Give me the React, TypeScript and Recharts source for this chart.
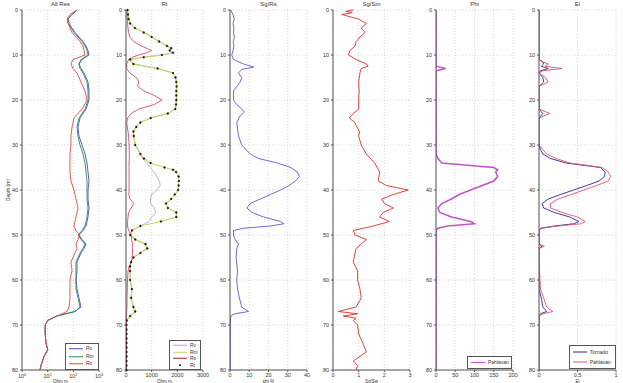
import { LineChart, Line, XAxis, YAxis, CartesianGrid } from "recharts";

const DEPTH_TICKS = [0, 10, 20, 30, 40, 50, 60, 70, 80];
const FONT = "'Liberation Sans', Arial, sans-serif";

// panel 1: all resistivities (log scale)
const resDepth = [0, 1, 2, 3, 4, 5, 6, 7, 8, 9, 10, 11, 12, 13, 14, 16, 18, 20, 22, 24, 26, 28, 30, 32, 34, 36, 38, 40, 42, 44, 46, 48, 49, 50, 51, 52, 53, 54, 56, 58, 60, 62, 64, 66, 67, 68, 69, 70, 72, 74, 75.5, 77, 79, 80];
const resRv = [139, 89, 62, 68, 89, 116, 166, 238, 312, 373, 408, 218, 166, 199, 261, 373, 408, 408, 312, 182, 152, 166, 218, 285, 341, 373, 408, 373, 373, 408, 373, 312, 238, 166, 218, 312, 261, 199, 139, 139, 127, 139, 166, 199, 116, 23, 10, 8, 8, 8.6, 10, 7.2, 5.5, 5];
const resRm = [139, 89, 62, 68, 81, 106, 152, 218, 285, 341, 373, 199, 166, 182, 238, 341, 373, 373, 285, 166, 139, 152, 182, 238, 285, 312, 341, 341, 341, 373, 341, 285, 218, 152, 199, 285, 238, 182, 127, 127, 127, 127, 152, 182, 116, 23, 10, 8, 8, 8.6, 10, 7.2, 5.5, 5];
const resRs = [139, 74, 57, 62, 74, 89, 127, 182, 238, 261, 285, 97, 81, 97, 139, 199, 285, 341, 218, 106, 89, 81, 81, 74, 74, 74, 81, 106, 127, 152, 127, 106, 127, 182, 152, 127, 139, 116, 81, 89, 74, 74, 74, 68, 57, 23, 10, 8, 8, 8.6, 10, 7.2, 5.5, 5];

// panel 2: Rt
const rtDepth = [0, 1, 2, 3, 4, 5, 6, 7, 8, 8.5, 9, 9.5, 10, 10.5, 11, 12, 13, 14, 15, 16, 17, 18, 19, 20, 21, 22, 23, 24, 25, 26, 27, 28, 30, 32, 33, 34, 35, 35.5, 36, 37, 38, 39, 40, 41, 42, 43, 44, 45, 46, 47, 48, 49, 50, 51, 52, 53, 54, 55, 56, 57, 58, 60, 62, 64, 66, 67, 68, 69, 70, 71, 72, 73, 74, 75, 76, 77, 78, 79, 80];
const rtRv = [60, 80, 100, 160, 350, 690, 1000, 1290, 1600, 1760, 1700, 1830, 1400, 690, 160, 290, 1230, 1830, 1930, 1960, 1970, 1960, 1960, 1960, 1950, 1920, 1630, 960, 560, 400, 290, 300, 360, 560, 650, 800, 950, 1000, 1100, 1200, 1300, 1330, 1200, 1000, 950, 960, 1100, 1160, 1000, 900, 560, 230, 160, 360, 760, 830, 560, 290, 200, 160, 160, 160, 230, 200, 290, 360, 160, 30, 20, 20, 20, 20, 20, 20, 20, 20, 20, 20, 20];
const rtRm = [60, 80, 100, 160, 350, 690, 1000, 1290, 1600, 1760, 1700, 1830, 1400, 690, 160, 290, 1230, 1830, 1930, 1960, 1970, 1960, 1960, 1960, 1950, 1920, 1630, 960, 560, 400, 290, 300, 360, 560, 700, 960, 1500, 1830, 1950, 2050, 2060, 2050, 2030, 1900, 1760, 1560, 1630, 1960, 1960, 1360, 560, 230, 160, 360, 760, 830, 560, 290, 200, 160, 160, 160, 230, 200, 290, 360, 160, 30, 20, 20, 20, 20, 20, 20, 20, 20, 20, 20, 20];
const rtRs = [30, 30, 50, 60, 80, 100, 150, 300, 600, 800, 1000, 800, 500, 250, 100, 30, 30, 150, 400, 500, 450, 700, 1100, 1400, 1100, 500, 200, 60, 30, 50, 80, 100, 120, 130, 130, 120, 120, 120, 120, 120, 120, 120, 120, 110, 150, 300, 200, 100, 80, 60, 60, 100, 200, 220, 250, 250, 250, 240, 200, 120, 80, 60, 50, 40, 40, 30, 20, 20, 20, 20, 20, 20, 20, 20, 20, 20, 20, 20, 20];
const rtRt = [60, 80, 100, 160, 350, 690, 1000, 1290, 1600, 1760, 1700, 1830, 1400, 690, 160, 290, 1230, 1830, 1930, 1960, 1970, 1960, 1960, 1960, 1950, 1920, 1630, 960, 560, 400, 290, 300, 360, 560, 700, 960, 1500, 1830, 1950, 2050, 2060, 2050, 2030, 1900, 1760, 1560, 1630, 1960, 1960, 1360, 560, 230, 160, 360, 760, 830, 560, 290, 200, 160, 160, 160, 230, 200, 290, 360, 160, 30, 20, 20, 20, 20, 20, 20, 20, 20, 20, 20, 20];

// panel 3
const sgDepth = [0, 1, 2, 3, 4, 5, 6, 7, 8, 9, 10, 11, 12, 12.7, 13.2, 14, 15, 16, 17, 18, 20, 21, 22, 22.7, 23.5, 25, 28, 30, 32, 33, 34, 35, 36, 37, 38, 39, 40, 41, 42, 43, 44, 45, 46, 47, 47.5, 48, 48.5, 49, 50, 51, 52, 53, 55, 58, 60, 62, 64, 66, 67, 67.5, 68, 70, 75, 80];
const sgRs = [0.4, 1.5, 2.2, 1.6, 2, 1.8, 2.3, 1.7, 2, 1.6, 0.9, 1.8, 7, 12.3, 6.1, 4.4, 6.1, 5.3, 3.5, 1.8, 1.8, 3.5, 6.1, 7.5, 5.3, 3.5, 4.4, 6.1, 10.5, 14.9, 24.6, 31.6, 35, 36, 34, 30.7, 26.3, 21, 15.8, 10.5, 8.8, 11.4, 17.5, 26.3, 28, 21, 7, 1.8, 1.8, 2.6, 4.4, 3.5, 3.2, 3.9, 3.5, 3.9, 4.9, 6.1, 9.6, 2.6, 0.4, 0.2, 0.2, 0.2];

// panel 4
const swDepth = [0, 0.3, 0.6, 1, 2, 3, 4, 5, 6, 7, 8, 9, 10, 11, 12, 12.5, 13, 14, 16, 18, 20, 22, 23, 24, 25, 26, 27, 28, 30, 32, 34, 36, 38, 39, 40, 41, 42, 43, 44, 45, 46, 47, 48, 49, 50, 51, 52, 53, 54, 56, 58, 60, 62, 64, 66, 67, 67.5, 68, 68.5, 69, 70, 72, 74, 76, 78, 79, 80];
const swVal = [0.8, 0.5, 0.75, 0.34, 0.99, 1.3, 1.1, 1.25, 1.05, 0.9, 0.86, 0.66, 0.6, 0.9, 1.3, 1.37, 1.1, 1.05, 1.0, 1.02, 1.0, 1.0, 0.79, 0.63, 0.85, 0.93, 1.04, 1.0, 1.1, 1.3, 1.62, 1.82, 1.76, 2.08, 2.93, 2.35, 1.9, 2.0, 2.35, 1.95, 1.82, 2.2, 1.57, 0.79, 0.86, 1.3, 1.1, 0.9, 0.86, 0.79, 0.96, 0.96, 1.05, 1.1, 0.9, 0.21, 0.96, 0.4, 0.9, 0.79, 0.96, 1.0, 1.16, 1.3, 0.79, 0.96, 0.9];

// panel 5
const phiDepth = [0, 12, 12.5, 13, 13.5, 14, 32, 33, 34, 35, 35.5, 36, 37, 38, 39, 40, 41, 42, 43, 44, 45, 46, 47, 47.5, 48, 48.5, 49, 80];
const phiVal = [0, 0, 0, 25, 0, 0, 0, 5, 15, 150, 160, 155, 160, 150, 120, 90, 60, 40, 15, 5, 10, 40, 90, 100, 30, 5, 0, 0];

// panel 6
const eiDepth = [0, 11, 11.5, 12, 12.5, 13, 13.5, 14, 15, 16, 17, 20, 22, 23, 24, 30, 31, 32, 33, 34, 35, 36, 37, 38, 39, 40, 41, 42, 43, 44, 45, 46, 47, 47.5, 48, 48.5, 49, 52, 52.5, 53, 56, 62, 64, 66, 67, 67.5, 68, 80];
const eiTornado = [0, 0, 0.05, 0.06, 0.03, 0.12, 0.02, 0, 0.05, 0.06, 0, 0, 0, 0.05, 0, 0, 0.02, 0.05, 0.15, 0.35, 0.8, 0.86, 0.85, 0.78, 0.62, 0.45, 0.28, 0.12, 0.04, 0.06, 0.2, 0.4, 0.52, 0.45, 0.2, 0.02, 0, 0, 0.04, 0, 0, 0, 0.03, 0.05, 0.1, 0.02, 0, 0];
const eiPahlavan = [0, 0, 0.05, 0.12, 0.08, 0.3, 0.05, 0, 0.08, 0.12, 0, 0, 0, 0.14, 0, 0, 0.05, 0.1, 0.22, 0.4, 0.82, 0.9, 0.93, 0.9, 0.75, 0.58, 0.42, 0.25, 0.15, 0.15, 0.3, 0.5, 0.6, 0.55, 0.25, 0.03, 0, 0, 0.07, 0, 0, 0.02, 0.06, 0.1, 0.18, 0.05, 0, 0];

type Series = { name: string; values: number[]; color: string; width?: number; dots?: boolean };
type LegendItem = { name: string; color: string; dots?: boolean };

interface PanelProps {
  plotLeft: number;
  title: string;
  depths: number[];
  series: Series[];
  domain: [number, number];
  ticks: number[];
  log?: boolean;
  xLabel?: string;
  legend?: { left: number; top: number; width: number; row: number; items: LegendItem[] };
}

const PowTick = (props: any) => {
  const { x, y, payload } = props;
  const e = Math.round(Math.log10(payload.value));
  return (
    <text x={x} y={y + 5} textAnchor="middle" fontSize={5.5} fill="#333" fontFamily={FONT}>
      10<tspan dy={-2.5} fontSize={3.8}>{e}</tspan>
    </text>
  );
};

function LegendBox({ left, top, width, row, items }: NonNullable<PanelProps["legend"]>) {
  return (
    <div
      style={{
        position: "absolute",
        left,
        top,
        width,
        border: "1px solid #555",
        background: "#fff",
        fontSize: 5,
        lineHeight: `${row}px`,
        padding: "1px 2px",
        boxSizing: "border-box",
        color: "#333",
      }}
    >
      {items.map((it) => (
        <div key={it.name} style={{ display: "flex", alignItems: "center", height: row }}>
          <svg width={16} height={row}>
            {it.dots ? (
              <circle cx={8} cy={row / 2} r={1} fill={it.color} />
            ) : (
              <line x1={1} x2={15} y1={row / 2} y2={row / 2} stroke={it.color} strokeWidth={1} />
            )}
          </svg>
          <span style={{ marginLeft: 2 }}>{it.name}</span>
        </div>
      ))}
    </div>
  );
}

function Panel({ plotLeft, title, depths, series, domain, ticks, log, xLabel, legend }: PanelProps) {
  const rows = depths.map((d, i) => {
    const r: Record<string, number> = { d };
    series.forEach((s) => (r[s.name] = s.values[i]));
    return r;
  });
  const tickStyle = { fontSize: 5.5, fill: "#333", fontFamily: FONT };
  return (
    <>
      <div
        style={{
          position: "absolute",
          left: plotLeft,
          top: 0,
          width: 77,
          textAlign: "center",
          fontSize: 6,
          lineHeight: "9px",
          color: "#333",
        }}
      >
        {title}
      </div>
      <div style={{ position: "absolute", left: plotLeft - 22, top: 0 }}>
        <LineChart
          width={110}
          height={395}
          data={rows}
          layout="vertical"
          margin={{ top: 10, right: 11, left: 2, bottom: 0 }}
        >
          <CartesianGrid xAxisId="b" yAxisId="l" stroke="#bdbdbd" strokeDasharray="1 2" strokeWidth={0.6} />
          <XAxis
            xAxisId="b"
            type="number"
            scale={log ? "log" : "linear"}
            domain={domain}
            ticks={ticks}
            interval={0}
            allowDataOverflow
            height={25}
            stroke="#555"
            tickSize={2}
            tickMargin={1}
            tick={log ? <PowTick /> : tickStyle}
            label={xLabel ? { value: xLabel, position: "insideBottom", offset: 12, fontSize: 4.5, fill: "#333" } : undefined}
          />
          <XAxis
            xAxisId="t"
            orientation="top"
            type="number"
            scale={log ? "log" : "linear"}
            domain={domain}
            ticks={ticks}
            height={0}
            tick={false}
            tickLine={false}
            stroke="#555"
          />
          <YAxis
            yAxisId="l"
            type="number"
            dataKey="d"
            domain={[0, 80]}
            ticks={DEPTH_TICKS}
            interval={0}
            width={20}
            stroke="#555"
            tickSize={2}
            tick={tickStyle}
          />
          <YAxis
            yAxisId="r"
            orientation="right"
            type="number"
            domain={[0, 80]}
            width={0}
            tick={false}
            tickLine={false}
            stroke="#555"
          />
          {series.map((s) => (
            <Line
              key={s.name}
              xAxisId="b"
              yAxisId="l"
              dataKey={s.name}
              type="linear"
              stroke={s.dots ? "none" : s.color}
              strokeWidth={s.width ?? 0.9}
              dot={s.dots ? { r: 0.9, fill: s.color, stroke: s.color, strokeWidth: 0.4 } : false}
              isAnimationActive={false}
            />
          ))}
        </LineChart>
      </div>
      {legend && <LegendBox {...legend} />}
    </>
  );
}

export default function App() {
  return (
    <div
      style={{
        position: "absolute",
        left: 0,
        top: 0,
        width: 623,
        height: 383,
        overflow: "hidden",
        background: "#fff",
        fontFamily: FONT,
      }}
    >
      <div
        style={{
          position: "absolute",
          left: 8 - 30,
          top: 190 - 4,
          width: 60,
          textAlign: "center",
          fontSize: 5,
          lineHeight: "8px",
          color: "#333",
          transform: "rotate(-90deg)",
        }}
      >
        Depth (m)
      </div>
      <Panel
        plotLeft={22}
        title="All Res"
        depths={resDepth}
        domain={[1, 1000]}
        ticks={[1, 10, 100, 1000]}
        log
        xLabel="Ohm m"
        series={[
          { name: "Rv", values: resRv, color: "#4a4ac8" },
          { name: "Rm", values: resRm, color: "#2e8b57" },
          { name: "Rs", values: resRs, color: "#e04848" },
        ]}
        legend={{
          left: 65,
          top: 343,
          width: 34,
          row: 7.5,
          items: [
            { name: "Rv", color: "#4a4ac8" },
            { name: "Rm", color: "#2e8b57" },
            { name: "Rs", color: "#e04848" },
          ],
        }}
      />
      <Panel
        plotLeft={126}
        title="Rt"
        depths={rtDepth}
        domain={[0, 3000]}
        ticks={[0, 1000, 2000, 3000]}
        xLabel="Ohm m"
        series={[
          { name: "Rv", values: rtRv, color: "#b4a8c8" },
          { name: "Rm", values: rtRm, color: "#c6d85a", width: 1.2 },
          { name: "Rs", values: rtRs, color: "#d8487a" },
          { name: "Rt", values: rtRt, color: "#111", dots: true },
        ]}
        legend={{
          left: 169,
          top: 340,
          width: 32,
          row: 6.5,
          items: [
            { name: "Rv", color: "#b4a8c8" },
            { name: "Rm", color: "#c6d85a" },
            { name: "Rs", color: "#a02040" },
            { name: "Rt", color: "#111", dots: true },
          ],
        }}
      />
      <Panel
        plotLeft={230}
        title="Sg/Rs"
        depths={sgDepth}
        domain={[0, 40]}
        ticks={[0, 10, 20, 30, 40]}
        xLabel="phi %"
        series={[{ name: "Sg", values: sgRs, color: "#5a5ad0" }]}
      />
      <Panel
        plotLeft={333}
        title="Sg/Sm"
        depths={swDepth}
        domain={[0, 3]}
        ticks={[0, 1, 2, 3]}
        xLabel="Sg/Sw"
        series={[{ name: "Sw", values: swVal, color: "#d83030" }]}
      />
      <Panel
        plotLeft={436}
        title="Phi"
        depths={phiDepth}
        domain={[0, 200]}
        ticks={[0, 50, 100, 150, 200]}
        series={[{ name: "Pahlavan", values: phiVal, color: "#c055c8", width: 1.5 }]}
        legend={{
          left: 467,
          top: 356,
          width: 45,
          row: 9,
          items: [{ name: "Pahlavan", color: "#c055c8" }],
        }}
      />
      <Panel
        plotLeft={539}
        title="Ei"
        depths={eiDepth}
        domain={[0, 1]}
        ticks={[0, 0.5, 1]}
        xLabel="Ei"
        series={[
          { name: "Tornado", values: eiTornado, color: "#28288c" },
          { name: "Pahlavan", values: eiPahlavan, color: "#e0507a" },
        ]}
        legend={{
          left: 569,
          top: 345,
          width: 47,
          row: 10,
          items: [
            { name: "Tornado", color: "#28288c" },
            { name: "Pahlavan", color: "#e0507a" },
          ],
        }}
      />
    </div>
  );
}
